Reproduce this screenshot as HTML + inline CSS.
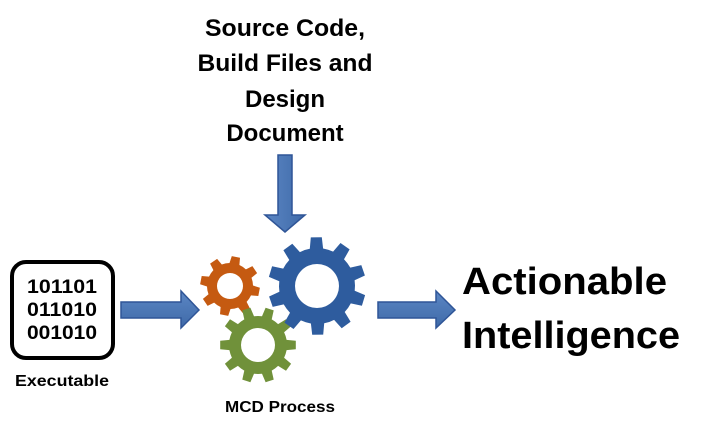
<!DOCTYPE html>
<html><head><style>
html,body{margin:0;padding:0;background:#fff;}
svg{display:block;}
text{font-family:"Liberation Sans",sans-serif;font-weight:bold;fill:#000;}
</style></head><body>
<svg id="s" width="710" height="430" viewBox="0 0 710 430" xmlns="http://www.w3.org/2000/svg">
<defs>
<linearGradient id="ah" x1="0" y1="0" x2="0" y2="1"><stop offset="0" stop-color="#5b86c4"/><stop offset="1" stop-color="#3f6aa8"/></linearGradient>
<linearGradient id="av" x1="0" y1="0" x2="1" y2="0"><stop offset="0" stop-color="#5b86c4"/><stop offset="1" stop-color="#3f6aa8"/></linearGradient>
</defs>
<g text-anchor="middle" font-size="24">
<text x="285" y="36" textLength="160" lengthAdjust="spacingAndGlyphs">Source Code,</text>
<text x="285" y="71" textLength="175" lengthAdjust="spacingAndGlyphs">Build Files and</text>
<text x="285" y="107">Design</text>
<text x="285" y="141">Document</text>
</g>
<polygon points="278,155 292,155 292,215 305,215 285,232 265,215 278,215" fill="url(#av)" stroke="#2f5597" stroke-width="1.5"/>
<rect x="12" y="262" width="101" height="96" rx="14" fill="#fff" stroke="#000" stroke-width="4"/>
<g font-size="19" text-anchor="middle">
<text x="62" y="293" textLength="70" lengthAdjust="spacingAndGlyphs">101101</text>
<text x="62" y="316" textLength="70" lengthAdjust="spacingAndGlyphs">011010</text>
<text x="62" y="339" textLength="70" lengthAdjust="spacingAndGlyphs">001010</text>
</g>
<text x="62" y="386" font-size="16" text-anchor="middle" textLength="94" lengthAdjust="spacingAndGlyphs">Executable</text>
<polygon points="121,302 181,302 181,291 199,310 181,328 181,318 121,318" fill="url(#ah)" stroke="#2f5597" stroke-width="1.5"/>
<polygon points="378,302 436,302 436,291 455,310 436,328 436,318 378,318" fill="url(#ah)" stroke="#2f5597" stroke-width="1.5"/>
<g id="gears"></g>
<text x="280" y="412" font-size="16" text-anchor="middle" textLength="110" lengthAdjust="spacingAndGlyphs">MCD Process</text>
<text x="462" y="294" font-size="38" textLength="205" lengthAdjust="spacingAndGlyphs">Actionable</text>
<text x="462" y="348" font-size="38" textLength="218" lengthAdjust="spacingAndGlyphs">Intelligence</text>
</svg>
<script>
function gear(cx,cy,ro,ri,rh,n,col,rot){
  var d="",step=2*Math.PI/n;
  for(var i=0;i<n;i++){
    var a=i*step+rot;
    var pts=[[ri,a-step*0.5],[ri,a-step*0.28],[ro,a-step*0.18],[ro,a+step*0.18],[ri,a+step*0.28]];
    pts.forEach(function(p,j){
      var x=cx+p[0]*Math.cos(p[1]),y=cy+p[0]*Math.sin(p[1]);
      d+=(i==0&&j==0?"M":"L")+x.toFixed(1)+","+y.toFixed(1);
    });
  }
  d+="Z M"+(cx+rh)+","+cy+" A"+rh+","+rh+" 0 1 0 "+(cx-rh)+","+cy+" A"+rh+","+rh+" 0 1 0 "+(cx+rh)+","+cy+"Z";
  var p=document.createElementNS("http://www.w3.org/2000/svg","path");
  p.setAttribute("d",d);p.setAttribute("fill",col);p.setAttribute("fill-rule","evenodd");
  document.getElementById("gears").appendChild(p);
}
gear(230,286,30,23,13,8,"#c55a11",0.2);
gear(258,345,38,29,17,10,"#70913a",0);
gear(317,286,49,38,22,10,"#2e5c9e",0.3);
</script>
</body></html>
